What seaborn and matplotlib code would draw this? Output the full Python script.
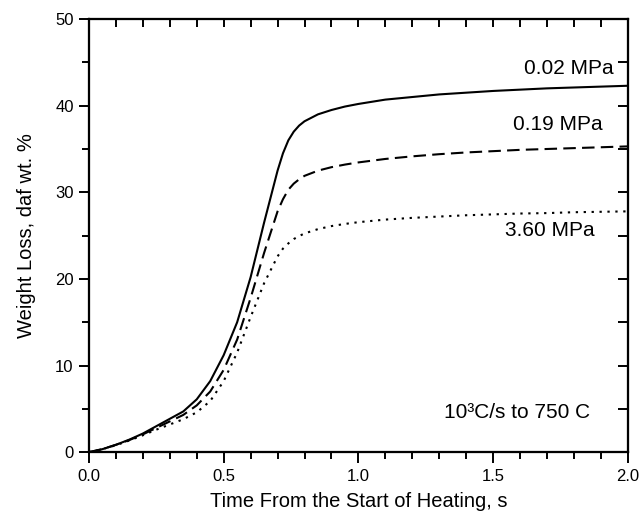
import numpy as np
import pandas as pd
import matplotlib
matplotlib.use("Agg")
import matplotlib.pyplot as plt
from matplotlib.ticker import MultipleLocator, NullFormatter
import seaborn as sns

# Time grid (s) and weight loss (daf wt. %) at each pressure
time_s = [0.0, 0.05, 0.1, 0.15, 0.2, 0.25, 0.3, 0.35, 0.4, 0.45, 0.5, 0.55,
          0.6, 0.65, 0.7, 0.72, 0.74, 0.76, 0.78, 0.8, 0.85, 0.9, 0.95, 1.0,
          1.1, 1.2, 1.3, 1.4, 1.5, 1.6, 1.7, 1.8, 1.9, 2.0]
loss_002 = [0.0, 0.35, 0.85, 1.45, 2.15, 3.0, 3.85, 4.7, 6.1, 8.2, 11.2, 15.0,
            20.2, 26.5, 32.5, 34.5, 36.0, 37.0, 37.7, 38.2, 39.0, 39.5, 39.9, 40.2,
            40.7, 41.0, 41.3, 41.5, 41.7, 41.85, 42.0, 42.1, 42.2, 42.3]
loss_019 = [0.0, 0.35, 0.85, 1.4, 2.05, 2.8, 3.55, 4.3, 5.4, 7.0, 9.5, 13.0,
            17.8, 23.0, 27.8, 29.2, 30.3, 31.0, 31.5, 31.9, 32.5, 32.9, 33.2, 33.45,
            33.85, 34.15, 34.4, 34.6, 34.75, 34.9, 35.0, 35.1, 35.2, 35.3]
loss_360 = [0.0, 0.35, 0.8, 1.35, 1.95, 2.6, 3.2, 3.8, 4.6, 5.9, 8.2, 11.5,
            15.6, 19.5, 22.6, 23.5, 24.1, 24.6, 24.95, 25.25, 25.75, 26.1, 26.35, 26.55,
            26.85, 27.05, 27.2, 27.35, 27.45, 27.55, 27.6, 27.7, 27.75, 27.8]
pressures = ["0.02 MPa", "0.19 MPa", "3.60 MPa"]
label_pos = [(1.78, 44.3), (1.74, 37.8), (1.71, 25.6)]
x_major = [0.0, 0.5, 1.0, 1.5, 2.0]
x_labels = ["0.0", "0.5", "1.0", "1.5", "2.0"]

df = pd.concat([
    pd.DataFrame({"time": time_s, "loss": vals, "pressure": p})
    for p, vals in zip(pressures, [loss_002, loss_019, loss_360])
], ignore_index=True)

sns.set_style("ticks")
plt.rcParams.update({
    "font.family": ["Liberation Sans", "DejaVu Sans"],
    "text.color": "black",
    "axes.edgecolor": "black",
    "axes.linewidth": 1.5,
    "xtick.color": "black", "ytick.color": "black",
})

fig = plt.figure(figsize=(6.4, 5.15), dpi=100)
ax = fig.add_axes([0.139, 0.122, 0.842, 0.841])

sns.lineplot(data=df, x="time", y="loss", style="pressure",
             dashes={"0.02 MPa": "", "0.19 MPa": (6, 3), "3.60 MPa": (1.1, 2.7)},
             color="black", linewidth=1.5, legend=False, ax=ax)

for txt, (x, y) in zip(pressures, label_pos):
    ax.text(x, y, txt, ha="center", va="center", fontsize=15, color="black")
ax.text(1.59, 4.6, "10³C/s to 750 C", ha="center", va="center", fontsize=15,
        color="black")

ax.set_xlim(0, 2.0)
ax.set_ylim(0, 50)
ax.set_xticks(x_major)
ax.set_xticklabels(x_labels)
ax.xaxis.set_minor_locator(MultipleLocator(0.1))
ax.yaxis.set_major_locator(MultipleLocator(10))
ax.yaxis.set_minor_locator(MultipleLocator(5))

ax.tick_params(which="both", direction="out", width=1.4, color="black",
               labelsize=12, labelcolor="black")
ax.tick_params(axis="x", which="major", length=8, pad=4)
ax.tick_params(axis="x", which="minor", length=5)
ax.tick_params(axis="y", which="major", length=7, pad=4)
ax.tick_params(axis="y", which="minor", length=5)

# mirrored inward ticks on top and right
top = ax.twiny()
top.set_xlim(ax.get_xlim())
top.xaxis.set_major_locator(MultipleLocator(0.1))
top.xaxis.set_major_formatter(NullFormatter())
top.tick_params(axis="x", direction="in", length=6, width=1.4, top=True,
                bottom=False, color="black")
right = ax.twinx()
right.set_ylim(ax.get_ylim())
right.yaxis.set_major_locator(MultipleLocator(5))
right.yaxis.set_major_formatter(NullFormatter())
right.tick_params(axis="y", direction="in", length=7, width=1.4, right=True,
                  left=False, color="black")

ax.set_xlabel("Time From the Start of Heating, s", fontsize=14.5, labelpad=6,
              color="black")
ax.set_ylabel("Weight Loss, daf wt. %", fontsize=14.5, labelpad=14, color="black")

fig.savefig("out.png", dpi=100)
